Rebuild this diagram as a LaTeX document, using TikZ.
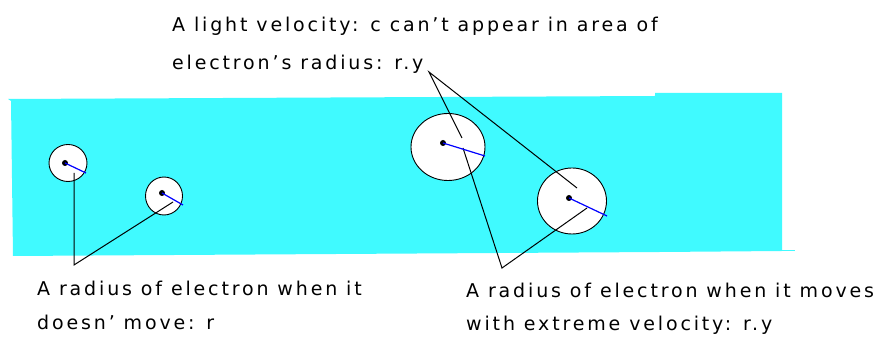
\documentclass[tikz,border=0pt]{standalone}
\usepackage{fontspec}
\setmainfont{DejaVu Sans}[LetterSpace=15]
\usetikzlibrary{shapes.geometric}
\definecolor{water}{RGB}{64,250,255}
\tikzset{
  electron/.style={ellipse, draw, fill=white, line width=0.9pt, inner sep=0pt},
  core/.style={circle, fill, inner sep=0pt, minimum size=6pt},
  lbl/.style={anchor=base west, inner sep=0pt, font=\fontsize{19}{22}\selectfont},
  pointer/.style={line width=1pt},
  radius/.style={blue, line width=1.2pt}
}
\begin{document}
\begin{tikzpicture}[x=1pt, y=-1pt]
  \useasboundingbox (0,0) rectangle (887,344);
  % Coordinates
  \coordinate (T) at (429,72);
  \coordinate (L) at (74,265);
  \coordinate (R) at (502,268);
  \coordinate (p1) at (74,173);
  \coordinate (p2) at (173,202);
  \coordinate (p3) at (462,138);
  \coordinate (p4) at (577,188);
  \coordinate (q3) at (463,148);
  \coordinate (q4) at (587,208);
  \coordinate (b1) at (86,173);
  \coordinate (b2) at (183,205);
  \coordinate (b3) at (485,156);
  \coordinate (b4) at (607,216);

  % Band
  \fill[water] (8,99) -- (655,96) -- (655,93) -- (782,93) -- (782,251)
    -- (660,252) -- (13,256) -- (11,101) -- cycle;
  \draw[water, line width=1pt] (782,250.5) -- (795,250.5);

  % Electrons
  \node[electron, minimum width=38pt, minimum height=37pt] (e1) at (68,163) {};
  \node[electron, minimum width=37pt, minimum height=38pt] (e2) at (164,196) {};
  \node[electron, minimum width=74pt, minimum height=67pt] (e3) at (448,147) {};
  \node[electron, minimum width=69pt, minimum height=66pt] (e4) at (572,201) {};

  % Pointers
  \draw[pointer] (p3) -- (T) -- (p4);
  \draw[pointer] (p1) -- (L) -- (p2);
  \draw[pointer] (q3) -- (R) -- (q4);

  % Radii
  \node[core] (c1) at (65,163) {};
  \node[core] (c2) at (162,193) {};
  \node[core] (c3) at (443,143) {};
  \node[core] (c4) at (569,198) {};
  \draw[radius] (c1.center) -- (b1);
  \draw[radius] (c2.center) -- (b2);
  \draw[radius] (c3.center) -- (b3);
  \draw[radius] (c4.center) -- (b4);

  % Labels
  \node[lbl] (top1) at (172,32) {A light velocity: c can’t appear in area of};
  \node[lbl] (top2) at (172,70) {electron’s radius: r.y};
  \node[lbl] (left1) at (37,296) {A radius of electron when it};
  \node[lbl] (left2) at (37,330) {doesn’ move: r};
  \node[lbl] (right1) at (466,298) {A radius of electron when it moves};
  \node[lbl] (right2) at (466,331) {with extreme velocity: r.y};
\end{tikzpicture}
\end{document}
